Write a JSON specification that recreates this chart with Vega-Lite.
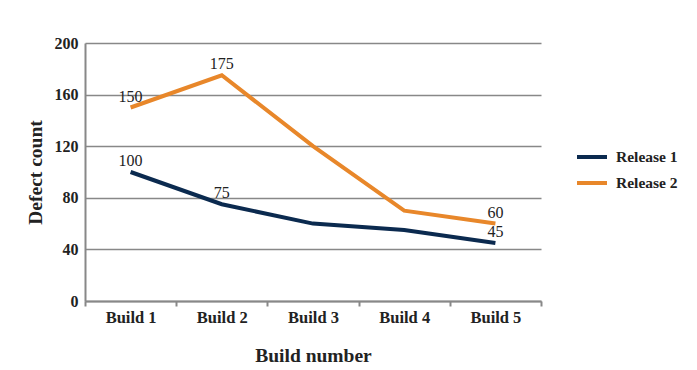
{
  "$schema": "https://vega.github.io/schema/vega-lite/v6.json",
  "autosize": {"type": "none"},
  "width": 456,
  "height": 258,
  "padding": {"left": 85, "top": 43, "right": 156, "bottom": 69},
  "background": "white",
  "config": {
    "font": "Liberation Serif",
    "view": {"stroke": null}
  },
  "data": {
    "values": [
      {"build": "Build 1", "release": "Release 1", "count": 100, "label": "100"},
      {"build": "Build 2", "release": "Release 1", "count": 75, "label": "75"},
      {"build": "Build 3", "release": "Release 1", "count": 60, "label": null},
      {"build": "Build 4", "release": "Release 1", "count": 55, "label": null},
      {"build": "Build 5", "release": "Release 1", "count": 45, "label": "45"},
      {"build": "Build 1", "release": "Release 2", "count": 150, "label": "150"},
      {"build": "Build 2", "release": "Release 2", "count": 175, "label": "175"},
      {"build": "Build 3", "release": "Release 2", "count": 120, "label": null},
      {"build": "Build 4", "release": "Release 2", "count": 70, "label": null},
      {"build": "Build 5", "release": "Release 2", "count": 60, "label": "60"}
    ]
  },
  "encoding": {
    "x": {
      "field": "build",
      "type": "nominal",
      "bandPosition": 0.5,
      "scale": {"type": "band", "paddingInner": 0, "paddingOuter": 0},
      "axis": {
        "title": "Build number",
        "titleFont": "Liberation Serif",
        "titleFontSize": 19.5,
        "titleFontWeight": "bold",
        "titleColor": "#222",
        "titlePadding": 21,
        "labelAngle": 0,
        "labelFont": "Liberation Serif",
        "labelFontSize": 16.5,
        "labelFontWeight": "bold",
        "labelColor": "#222",
        "labelPadding": 3,
        "tickBand": "extent",
        "tickColor": "#888",
        "tickWidth": 2,
        "tickSize": 5,
        "domainColor": "#888",
        "domainWidth": 2,
        "grid": false
      }
    },
    "y": {
      "field": "count",
      "type": "quantitative",
      "scale": {"domain": [0, 200], "nice": false},
      "axis": {
        "title": "Defect count",
        "titleFont": "Liberation Serif",
        "titleFontSize": 19.5,
        "titleFontWeight": "bold",
        "titleColor": "#222",
        "titlePadding": 9,
        "values": [0, 40, 80, 120, 160, 200],
        "labelFont": "Liberation Serif",
        "labelFontSize": 16,
        "labelFontWeight": "bold",
        "labelColor": "#222",
        "labelPadding": 7,
        "ticks": false,
        "domainColor": "#888",
        "domainWidth": 2,
        "grid": true,
        "gridColor": "#888",
        "gridWidth": 1.5
      }
    }
  },
  "layer": [
    {
      "mark": {"type": "line", "strokeWidth": 4},
      "encoding": {
        "color": {
          "field": "release",
          "type": "nominal",
          "scale": {"domain": ["Release 1", "Release 2"], "range": ["#0b2a4f", "#e8872a"]},
          "legend": {
            "title": null,
            "orient": "none",
            "legendX": 490,
            "legendY": 97,
            "symbolType": "stroke",
            "symbolSize": 900,
            "symbolStrokeWidth": 4,
            "rowPadding": -1,
            "labelFont": "Liberation Serif",
            "labelFontSize": 15.5,
            "labelFontWeight": "bold",
            "labelColor": "#222",
            "labelOffset": 7
          }
        }
      }
    },
    {
      "transform": [{"filter": "datum.label != null"}],
      "mark": {"type": "text", "baseline": "bottom", "dy": -3, "fontSize": 16, "color": "#222", "font": "Liberation Serif"},
      "encoding": {"text": {"field": "label", "type": "nominal"}}
    }
  ]
}
